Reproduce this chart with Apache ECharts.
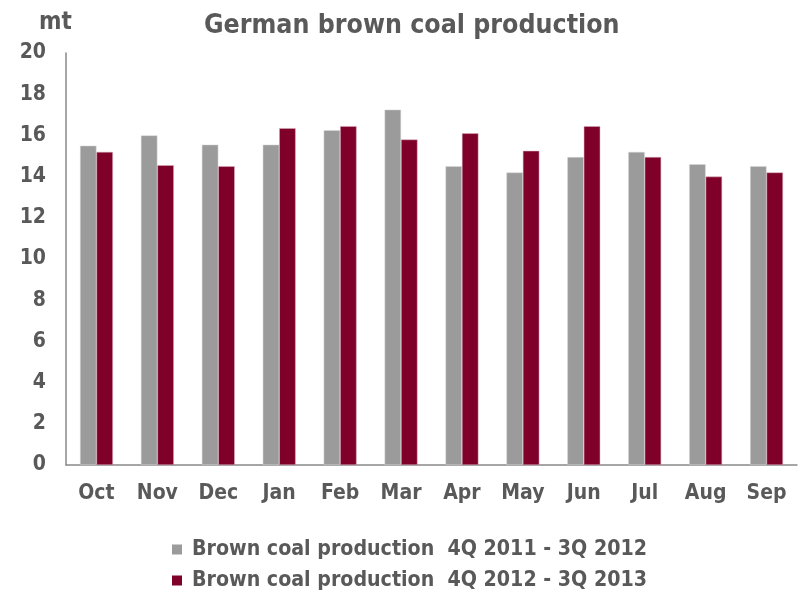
<!DOCTYPE html>
<html><head><meta charset="utf-8">
<script src="https://cdn.jsdelivr.net/npm/echarts@6/dist/echarts.min.js"></script>
<style>html,body{margin:0;padding:0;background:#fff}#c{width:799px;height:590px}</style>
</head><body><div id="c"></div>
<script>
const categories = ['Oct','Nov','Dec','Jan','Feb','Mar','Apr','May','Jun','Jul','Aug','Sep'];
const series1Name = 'Brown coal production  4Q 2011 - 3Q 2012';
const series2Name = 'Brown coal production  4Q 2012 - 3Q 2013';
const series1 = [15.5, 16.0, 15.55, 15.55, 16.25, 17.25, 14.5, 14.2, 14.95, 15.2, 14.6, 14.5];
const series2 = [15.2, 14.55, 14.5, 16.35, 16.45, 15.8, 16.1, 15.25, 16.45, 14.95, 14.0, 14.2];
const yTicks = [0, 2, 4, 6, 8, 10, 12, 14, 16, 18, 20];

const FONT = '"DejaVu Sans Condensed", "DejaVu Sans", sans-serif';
const TXT = '#595959';
const chart = echarts.init(document.getElementById('c'));
chart.setOption({
  animation: false,
  title: [
    {text: 'German brown coal production', left: 199, top: 8,
     textStyle: {fontFamily: FONT, fontWeight: 'bold', fontSize: 26.5, color: TXT}},
    {text: 'mt', left: 34, top: 6,
     textStyle: {fontFamily: FONT, fontWeight: 'bold', fontSize: 24, color: TXT}}
  ],
  legend: {
    orient: 'vertical', left: 167, top: 534, height: 120, itemGap: 10,
    itemWidth: 10, itemHeight: 10, icon: 'rect',
    itemStyle: {borderWidth: 0},
    textStyle: {fontFamily: FONT, fontWeight: 'bold', fontSize: 21.2, color: TXT, padding: [0, 0, 0, 5]},
    data: [series1Name, series2Name]
  },
  grid: {left: 66, right: 2, top: 53, bottom: 125},
  xAxis: {
    type: 'category', data: categories,
    axisLine: {lineStyle: {color: '#898989', width: 1.5}},
    axisTick: {show: false},
    axisLabel: {fontFamily: FONT, fontWeight: 'bold', fontSize: 21, color: TXT, margin: 18}
  },
  yAxis: {
    type: 'value', min: yTicks[0], max: yTicks[yTicks.length-1], interval: 2,
    axisLine: {show: true, lineStyle: {color: '#898989', width: 1.5}},
    axisTick: {show: false},
    splitLine: {show: false},
    axisLabel: {fontFamily: FONT, fontWeight: 'bold', fontSize: 21, color: TXT, margin: 20}
  },
  series: [
    {name: series1Name, type: 'bar', data: series1, barGap: '0%', barCategoryGap: '46%',
     itemStyle: {color: '#9b9b9b', borderColor: '#d9d9d9', borderWidth: 0.5}},
    {name: series2Name, type: 'bar', data: series2,
     itemStyle: {color: '#7f0029', borderColor: '#d9b3bf', borderWidth: 0.5}}
  ]
});
</script></body></html>
